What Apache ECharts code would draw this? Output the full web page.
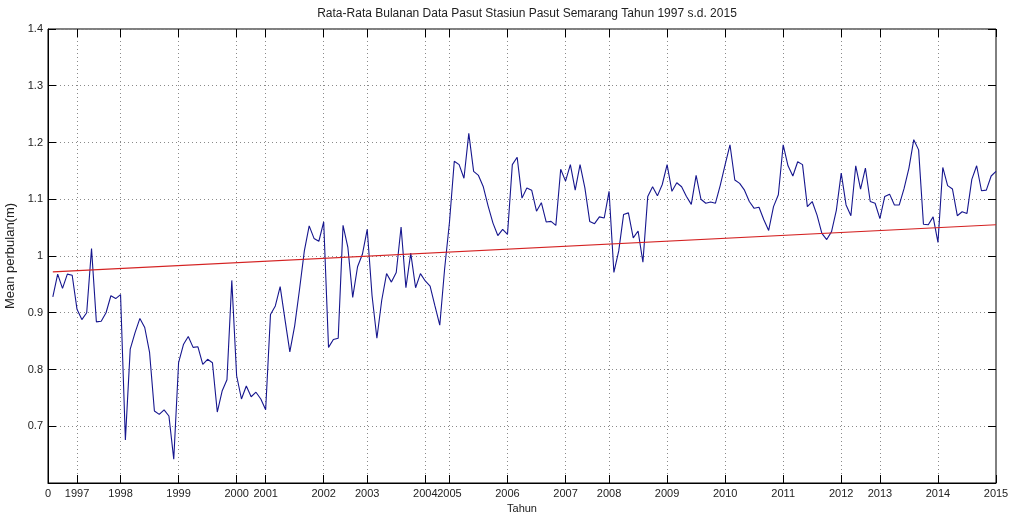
<!DOCTYPE html>
<html>
<head>
<meta charset="utf-8">
<title>Rata-Rata Bulanan Data Pasut Stasiun Pasut Semarang</title>
<script src="https://cdn.jsdelivr.net/npm/echarts@6/dist/echarts.min.js"></script>
<style>
  html, body { margin: 0; padding: 0; background: #fff; }
  #chart { width: 1009px; height: 515px; }
</style>
</head>
<body>
<div id="chart"></div>
<script>
// Monthly mean sea level (m), Semarang tide station, month index 1..196
const meanLevel = [
  0.928, 0.968, 0.943, 0.968, 0.966, 0.906, 0.888, 0.900, 1.013, 0.884, 0.885, 0.900,
  0.930, 0.925, 0.932, 0.676, 0.836, 0.865, 0.890, 0.874, 0.830, 0.727, 0.721, 0.729,
  0.718, 0.642, 0.812, 0.844, 0.858, 0.839, 0.840, 0.809, 0.818, 0.812, 0.725, 0.762,
  0.782, 0.957, 0.789, 0.748, 0.771, 0.752, 0.760, 0.748, 0.729, 0.897, 0.912, 0.946,
  0.888, 0.831, 0.877, 0.941, 1.009, 1.053, 1.031, 1.026, 1.060, 0.839, 0.853, 0.855,
  1.054, 1.015, 0.927, 0.981, 1.003, 1.047, 0.930, 0.855, 0.922, 0.969, 0.954, 0.971,
  1.051, 0.944, 1.005, 0.944, 0.969, 0.956, 0.947, 0.912, 0.878, 0.977, 1.059, 1.167,
  1.161, 1.137, 1.216, 1.149, 1.142, 1.122, 1.088, 1.058, 1.036, 1.047, 1.038, 1.161,
  1.174, 1.102, 1.120, 1.116, 1.079, 1.094, 1.060, 1.061, 1.054, 1.153, 1.132, 1.161,
  1.116, 1.161, 1.120, 1.061, 1.057, 1.069, 1.067, 1.114, 0.971, 1.009, 1.073, 1.076,
  1.032, 1.044, 0.989, 1.105, 1.122, 1.106, 1.126, 1.161, 1.114, 1.129, 1.122, 1.105,
  1.091, 1.142, 1.100, 1.093, 1.095, 1.093, 1.125, 1.161, 1.196, 1.134, 1.128, 1.116,
  1.096, 1.084, 1.086, 1.064, 1.045, 1.087, 1.108, 1.196, 1.159, 1.141, 1.166, 1.161,
  1.087, 1.096, 1.072, 1.040, 1.029, 1.043, 1.081, 1.146, 1.090, 1.071, 1.159, 1.118,
  1.155, 1.096, 1.093, 1.066, 1.105, 1.109, 1.090, 1.090, 1.119, 1.155, 1.205, 1.187,
  1.056, 1.055, 1.069, 1.024, 1.156, 1.124, 1.118, 1.071, 1.078, 1.075, 1.135, 1.159,
  1.115, 1.116, 1.141, 1.149
];

// Linear trend: end points (month index, level)
const trendIndex = [1, 196];
const trendValue = [0.972, 1.055];

// Year ticks placed at the month index where each year's records begin
const tickIndex  = [0, 6, 15, 27, 39, 45, 57, 66, 78, 83, 95, 107, 116, 128, 140, 152, 164, 172, 184, 196];
const tickLabels = ['0', '1997', '1998', '1999', '2000', '2001', '2002', '2003', '2004', '2005',
                    '2006', '2007', '2008', '2009', '2010', '2011', '2012', '2013', '2014', '2015'];

const yTicks = [0.6, 0.7, 0.8, 0.9, 1.0, 1.1, 1.2, 1.3, 1.4];

const lastIndex = tickIndex[tickIndex.length - 1];
const categories = [];
for (let i = 0; i <= lastIndex; i++) categories.push(String(i));

const tickLabelOf = {};
tickIndex.forEach((t, k) => { tickLabelOf[t] = tickLabels[k]; });
const isTick = (idx) => Object.prototype.hasOwnProperty.call(tickLabelOf, idx);

const levelSeries = meanLevel.map((v, i) => [i + 1, v]);
const trendSeries = trendIndex.map((t, k) => [t, trendValue[k]]);

const FONT = '"Liberation Sans", Arial, sans-serif';
const gridDots = { color: '#8a8a8a', width: 1, type: [1, 3] };

const chart = echarts.init(document.getElementById('chart'), null, { renderer: 'canvas' });

chart.setOption({
  animation: false,
  backgroundColor: '#ffffff',
  textStyle: { fontFamily: FONT },
  title: {
    text: 'Rata-Rata Bulanan Data Pasut Stasiun Pasut Semarang Tahun 1997 s.d. 2015',
    left: 522,
    top: 3,
    textAlign: 'center',
    textStyle: { fontFamily: FONT, fontSize: 12, fontWeight: 'normal', color: '#222' }
  },
  grid: {
    left: 48, right: 13, top: 29, bottom: 32,
    containLabel: false,
    outerBoundsMode: 'none',
    show: true, borderColor: '#000', borderWidth: 1, backgroundColor: 'transparent'
  },
  xAxis: [
    {
      type: 'category',
      data: categories,
      boundaryGap: false,
      name: 'Tahun',
      nameLocation: 'middle',
      nameGap: 20,
      nameTextStyle: { fontFamily: FONT, fontSize: 11, color: '#222' },
      axisLine: { show: true, lineStyle: { color: '#000', width: 1 } },
      axisTick: { show: true, inside: true, length: 8, interval: (i) => isTick(i),
                  lineStyle: { color: '#000', width: 1 } },
      axisLabel: { show: true, interval: (i) => isTick(i), margin: 5,
                   formatter: (v, i) => tickLabelOf[i] || '',
                   fontFamily: FONT, fontSize: 11, color: '#222' },
      splitLine: { show: true, interval: (i) => isTick(i) && i !== 0 && i !== lastIndex,
                   lineStyle: gridDots }
    },
    {
      type: 'category',
      data: categories,
      boundaryGap: false,
      position: 'top',
      axisLine: { show: false },
      axisTick: { show: true, inside: true, length: 8, interval: (i) => isTick(i),
                  lineStyle: { color: '#000', width: 1 } },
      axisLabel: { show: false },
      splitLine: { show: false }
    }
  ],
  yAxis: [
    {
      type: 'value',
      min: yTicks[0],
      max: yTicks[yTicks.length - 1],
      interval: 0.1,
      name: 'Mean perbulan(m)',
      nameLocation: 'middle',
      nameGap: 27,
      nameTextStyle: { fontFamily: FONT, fontSize: 13, color: '#222' },
      axisLine: { show: true, lineStyle: { color: '#000', width: 1 } },
      axisTick: { show: true, inside: true, length: 8, lineStyle: { color: '#000', width: 1 } },
      axisLabel: { showMinLabel: false, margin: 5, fontFamily: FONT, fontSize: 11, color: '#222',
                   formatter: (v) => String(+v.toFixed(1)) },
      splitLine: { show: true, lineStyle: gridDots }
    },
    {
      type: 'value',
      min: yTicks[0],
      max: yTicks[yTicks.length - 1],
      interval: 0.1,
      position: 'right',
      axisLine: { show: false },
      axisTick: { show: true, inside: true, length: 8, lineStyle: { color: '#000', width: 1 } },
      axisLabel: { show: false },
      splitLine: { show: false }
    }
  ],
  series: [
    {
      name: 'Mean bulanan',
      type: 'line',
      xAxisIndex: 0,
      yAxisIndex: 0,
      data: levelSeries,
      showSymbol: false,
      symbol: 'none',
      lineStyle: { color: '#16168e', width: 1.1 },
      z: 3
    },
    {
      name: 'Trend',
      type: 'line',
      xAxisIndex: 0,
      yAxisIndex: 0,
      data: trendSeries,
      showSymbol: false,
      symbol: 'none',
      lineStyle: { color: '#d42222', width: 1.1 },
      z: 4
    }
  ]
});
</script>
</body>
</html>
